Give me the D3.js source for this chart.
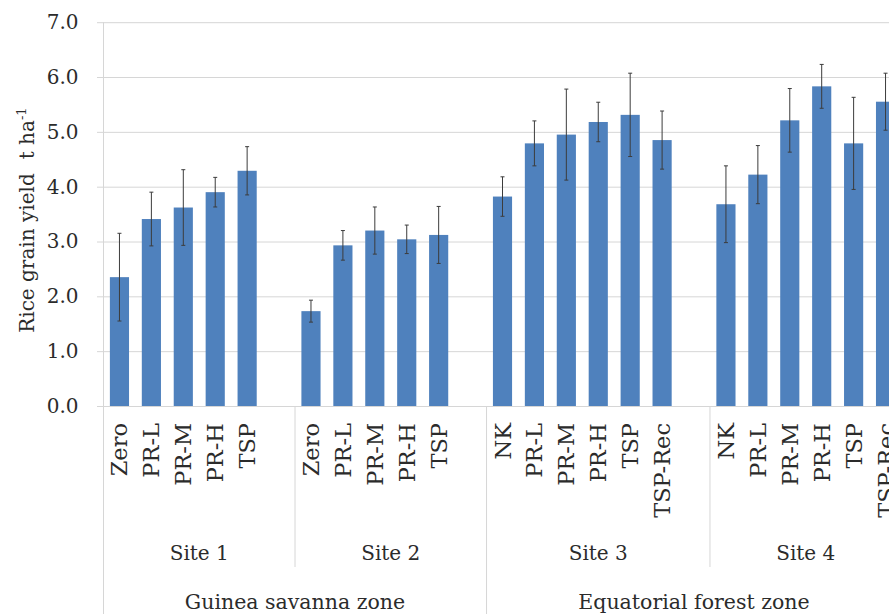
<!DOCTYPE html>
<html>
<head>
<meta charset="utf-8">
<script src="https://cdn.jsdelivr.net/npm/d3@7"></script>
<style>
  body { margin: 0; background: #fff; }
  svg { display: block; }
  text { font-family: "DejaVu Serif", serif; fill: #2b2b2b; }
</style>
</head>
<body>
<div id="chart"></div>
<script>
// values (t/ha, mean and +/- error)
const zones = ["Guinea savanna zone", "Equatorial forest zone"];
const sites = ["Site 1", "Site 2", "Site 3", "Site 4"];
const siteZone = [0, 0, 1, 1];
const treatments = [
    ["Zero", "PR-L", "PR-M", "PR-H", "TSP"],
    ["Zero", "PR-L", "PR-M", "PR-H", "TSP"],
    ["NK", "PR-L", "PR-M", "PR-H", "TSP", "TSP-Rec"],
    ["NK", "PR-L", "PR-M", "PR-H", "TSP", "TSP-Rec"]
];
const yields = [
    [2.35, 3.41, 3.62, 3.90, 4.29],
    [1.73, 2.93, 3.20, 3.04, 3.12],
    [3.82, 4.79, 4.95, 5.18, 5.31, 4.85],
    [3.68, 4.22, 5.21, 5.83, 4.79, 5.55]
];
const errors = [
    [0.80, 0.49, 0.69, 0.27, 0.44],
    [0.20, 0.27, 0.43, 0.26, 0.52],
    [0.36, 0.41, 0.83, 0.36, 0.76, 0.53],
    [0.70, 0.53, 0.58, 0.40, 0.84, 0.52]
];
const yTicks = [0, 1, 2, 3, 4, 5, 6, 7];

function main() {

    const W = 889, H = 614;
    // the plot runs a little past the right edge of the picture
    const margin = {top: 22.2, right: -12.5, bottom: 208, left: 103.5},
        width = W - margin.left - margin.right,
        height = H - margin.top - margin.bottom;

    const svg = d3.select("#chart")
        .append("svg")
        .attr("width", W)
        .attr("height", H);

    const g = svg.append("g")
        .attr("transform", `translate(${margin.left},${margin.top})`);

    // one slot per bar, plus an empty slot closing each site but the last
    const slots = [];
    treatments.forEach(function(list, s) {
        list.forEach(function(t, i) {
            slots.push({key: s + "-" + i, site: s, label: t, value: yields[s][i], err: errors[s][i]});
        });
        if (s < sites.length - 1) slots.push({key: s + "-gap", site: s, label: "", value: null});
    });

    const x = d3.scaleBand()
        .domain(slots.map(d => d.key))
        .range([0, width])
        .paddingInner(0.4)
        .paddingOuter(0.2);

    const y = d3.scaleLinear()
        .domain([0, 7])
        .range([height, 0]);

    const half = x.step() * x.paddingInner() / 2;
    const siteStart = sites.map((s, i) => x(i + "-0") - half);
    const siteEnd = sites.map((s, i) => i < sites.length - 1 ? siteStart[i + 1] : width);

    // y axis, ticks and gridlines
    const yAxis = g.append("g")
        .call(d3.axisLeft(y).tickValues(yTicks).tickFormat(d3.format(".1f")).tickSize(6.5).tickPadding(18.5));
    yAxis.select(".domain").remove();
    yAxis.selectAll(".tick line").attr("stroke", "#d6d6d6");
    yAxis.selectAll(".tick line").clone().attr("x1", 0).attr("x2", width);
    yAxis.selectAll(".tick text")
        .attr("font-family", "DejaVu Serif")
        .attr("font-size", "20px")
        .attr("fill", "#2b2b2b");

    // left axis line, down to the bottom of the category labels
    g.append("line")
        .attr("x1", 0).attr("x2", 0)
        .attr("y1", 0).attr("y2", H - margin.top)
        .attr("stroke", "#d6d6d6");

    // separators of the category axis
    sites.forEach(function(s, i) {
        if (i === 0) return;
        const zoneBreak = siteZone[i] !== siteZone[i - 1];
        g.append("line")
            .attr("x1", siteStart[i]).attr("x2", siteStart[i])
            .attr("y1", height)
            .attr("y2", zoneBreak ? H - margin.top : height + 161)
            .attr("stroke", "#d6d6d6");
    });

    // bars
    const bars = slots.filter(d => d.value !== null);
    g.selectAll("rect.bar")
        .data(bars)
        .join("rect")
        .attr("class", "bar")
        .attr("x", d => x(d.key))
        .attr("y", d => y(d.value))
        .attr("width", x.bandwidth())
        .attr("height", d => height - y(d.value))
        .attr("fill", "#4f81bd");

    // error bars
    const eb = g.selectAll("g.err")
        .data(bars)
        .join("g")
        .attr("class", "err")
        .attr("stroke", "#3c3c3c")
        .attr("stroke-width", 1);
    eb.append("line")
        .attr("x1", d => x(d.key) + x.bandwidth() / 2)
        .attr("x2", d => x(d.key) + x.bandwidth() / 2)
        .attr("y1", d => y(d.value - d.err))
        .attr("y2", d => y(d.value + d.err));
    [-1, 1].forEach(function(sign) {
        eb.append("line")
            .attr("x1", d => x(d.key) + x.bandwidth() / 2 - 2)
            .attr("x2", d => x(d.key) + x.bandwidth() / 2 + 2)
            .attr("y1", d => y(d.value + sign * d.err))
            .attr("y2", d => y(d.value + sign * d.err));
    });

    // treatment labels
    g.selectAll("text.cat")
        .data(bars)
        .join("text")
        .attr("class", "cat")
        .attr("transform", d => `translate(${x(d.key) + x.bandwidth() / 2 + 8},${height + 17}) rotate(-90)`)
        .attr("text-anchor", "end")
        .attr("font-size", "22.5px")
        .text(d => d.label);

    // site labels
    g.selectAll("text.site")
        .data(sites)
        .join("text")
        .attr("class", "site")
        .attr("x", (d, i) => (siteStart[i] + siteEnd[i]) / 2)
        .attr("y", 560 - margin.top)
        .attr("text-anchor", "middle")
        .attr("font-size", "20px")
        .text(d => d);

    // zone labels
    g.selectAll("text.zone")
        .data(zones)
        .join("text")
        .attr("class", "zone")
        .attr("x", function(d, z) {
            const idx = siteZone.map((v, i) => v === z ? i : -1).filter(i => i >= 0);
            return (siteStart[idx[0]] + siteEnd[idx[idx.length - 1]]) / 2;
        })
        .attr("y", 609 - margin.top)
        .attr("text-anchor", "middle")
        .attr("font-size", "20.5px")
        .text(d => d);

    // y axis title
    const title = svg.append("text")
        .attr("transform", `translate(34,${margin.top + height / 2 + 6}) rotate(-90)`)
        .attr("text-anchor", "middle")
        .attr("font-size", "20px");
    title.append("tspan").text("Rice grain yield");
    title.append("tspan").attr("dx", 14).text("t ha");
    title.append("tspan").attr("dy", -8).attr("font-size", "13px").text("-1");
}

main()
</script>
</body>
</html>
